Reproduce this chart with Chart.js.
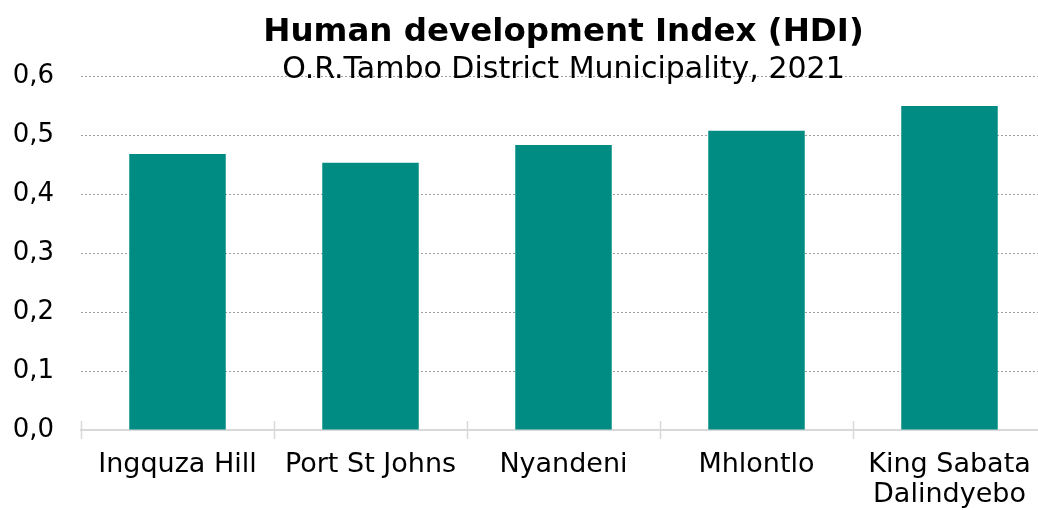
<!DOCTYPE html>
<html lang="en">
<head>
    <meta charset="UTF-8">
    <title>Human development Index (HDI)</title>
    <style>
        body { margin: 0; overflow: hidden; background: #ffffff; }
        .chart-box { width: 1048px; height: 510px; position: relative; }
    </style>
</head>
<body>
    <div class="chart-box">
        <canvas id="hdiChart"></canvas>
    </div>

    <script src="https://cdn.jsdelivr.net/npm/chart.js"></script>
    <script>
        const titleText = 'Human development Index (HDI)';
        const subtitleText = 'O.R.Tambo District Municipality, 2021';
        const municipalities = ['Ingquza Hill', 'Port St Johns', 'Nyandeni', 'Mhlontlo', ['King Sabata', 'Dalindyebo']];
        const hdiValues = [0.468, 0.453, 0.483, 0.507, 0.549];
        const yMin = 0;
        const yMax = 0.6;
        const yStep = 0.1;

        const fontFamily = '"DejaVu Sans", Verdana, sans-serif';

        // title + subtitle sit over the top of the plot, so draw them by hand
        const headerPlugin = {
            id: 'header',
            afterDraw(chart) {
                const ctx = chart.ctx;
                const area = chart.chartArea;
                const cx = (area.left + area.right) / 2;
                ctx.save();
                ctx.fillStyle = '#000000';
                ctx.textAlign = 'center';
                ctx.textBaseline = 'alphabetic';
                ctx.font = 'bold 32.5px ' + fontFamily;
                ctx.fillText(titleText, cx, 41);
                ctx.font = '30px ' + fontFamily;
                ctx.fillText(subtitleText, cx, 78);
                ctx.restore();
            }
        };

        // short tick marks on the zero line go both above and below it
        const catTicksPlugin = {
            id: 'catTicks',
            afterDatasetsDraw(chart) {
                const x = chart.scales.x;
                const y0 = chart.scales.y.getPixelForValue(0);
                const ctx = chart.ctx;
                ctx.save();
                ctx.strokeStyle = '#d9d9d9';
                ctx.lineWidth = 1.5;
                for (let i = 0; i <= municipalities.length; i++) {
                    const px = Math.round(x.getPixelForValue(i - 0.5)) + 0.5;
                    ctx.beginPath();
                    ctx.moveTo(px, y0 - 9);
                    ctx.lineTo(px, y0 + 9);
                    ctx.stroke();
                }
                ctx.restore();
            }
        };

        const ctx = document.getElementById('hdiChart').getContext('2d');
        const hdiChart = new Chart(ctx, {
            type: 'bar',
            data: {
                labels: municipalities,
                datasets: [{
                    data: hdiValues,
                    backgroundColor: '#008C82',
                    barPercentage: 0.5,
                    categoryPercentage: 1.0
                }]
            },
            options: {
                responsive: true,
                maintainAspectRatio: false,
                animation: false,
                layout: { padding: { top: 76, right: 2, left: 0, bottom: 0 } },
                plugins: {
                    legend: { display: false },
                    tooltip: { enabled: false }
                },
                scales: {
                    x: {
                        afterFit(scale) { scale.height = 80; },
                        border: { display: true, color: '#d9d9d9', width: 2 },
                        grid: { display: false },
                        ticks: {
                            color: '#000000',
                            padding: 12,
                            maxRotation: 0,
                            font: { family: fontFamily, size: 27, lineHeight: 1.12 }
                        }
                    },
                    y: {
                        min: yMin,
                        max: yMax,
                        afterFit(scale) { scale.width = 81; },
                        border: { display: false, dash: [2, 2] },
                        grid: {
                            drawTicks: false,
                            color: (c) => c.tick && c.tick.value === 0 ? 'rgba(0,0,0,0)' : '#a0a0a0',
                            lineWidth: 1
                        },
                        ticks: {
                            stepSize: yStep,
                            color: '#000000',
                            padding: 27,
                            font: { family: fontFamily, size: 26 },
                            callback: (v) => Number(v).toFixed(1).replace('.', ',')
                        }
                    }
                }
            },
            plugins: [headerPlugin, catTicksPlugin]
        });
    </script>
</body>
</html>
